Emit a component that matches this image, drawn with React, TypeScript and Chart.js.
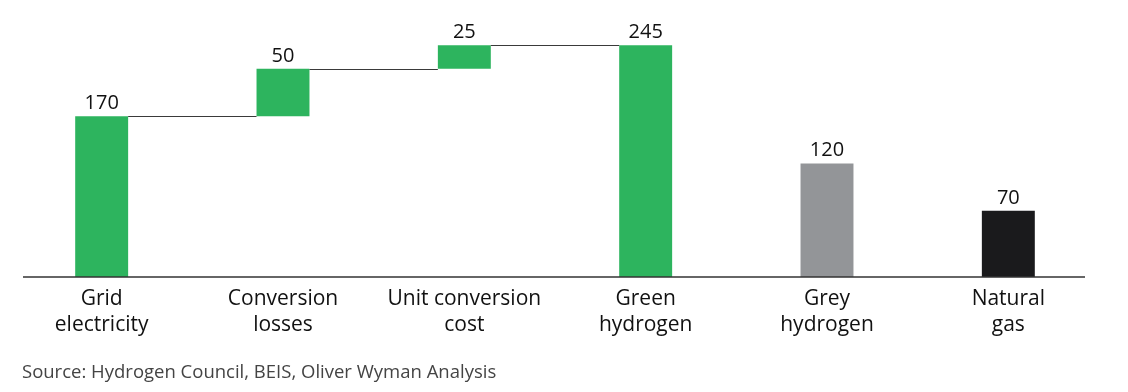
import React, { useEffect, useRef } from "react";
import { Chart, registerables } from "chart.js";

Chart.register(...registerables);

const categories: string[][] = [
  ["Grid", "electricity"],
  ["Conversion", "losses"],
  ["Unit conversion", "cost"],
  ["Green", "hydrogen"],
  ["Grey", "hydrogen"],
  ["Natural", "gas"],
];
const values: number[] = [170, 50, 25, 245, 120, 70];
// which bars float on top of the running total
const floating: boolean[] = [false, true, true, false, false, false];
const barColors: string[] = ["#2db45e", "#2db45e", "#2db45e", "#2db45e", "#939598", "#1a1a1c"];
const sourceText = "Source: Hydrogen Council, BEIS, Oliver Wyman Analysis";

const FONT = "'Open Sans', 'Noto Sans', sans-serif";

export default function App() {
  const ref = useRef<HTMLCanvasElement | null>(null);

  useEffect(() => {
    if (!ref.current) return;
    let running = 0;
    const ranges: [number, number][] = values.map((v, i) => {
      if (floating[i]) {
        const r: [number, number] = [running, running + v];
        running += v;
        return r;
      }
      running = v;
      return [0, v];
    });

    const connectors = {
      id: "connectors",
      afterDatasetsDraw(chart: any) {
        const ctx = chart.ctx;
        const meta = chart.getDatasetMeta(0);
        const y = chart.scales.y;
        ctx.save();
        ctx.strokeStyle = "#3a3a3a";
        ctx.lineWidth = 1;
        for (let i = 0; i < 3; i++) {
          const a = meta.data[i] as any;
          const b = meta.data[i + 1] as any;
          const py = Math.round(y.getPixelForValue(ranges[i][1])) + 0.5;
          ctx.beginPath();
          ctx.moveTo(a.x + a.width / 2, py);
          ctx.lineTo(b.x - b.width / 2, py);
          ctx.stroke();
        }
        // value labels
        ctx.fillStyle = "#111";
        ctx.font = `20px ${FONT}`;
        ctx.textAlign = "center";
        ctx.textBaseline = "alphabetic";
        meta.data.forEach((el: any, i: number) => {
          const top = y.getPixelForValue(ranges[i][1]);
          ctx.fillText(String(values[i]), el.x, top - 7);
        });
        // baseline axis
        const area = chart.chartArea;
        ctx.strokeStyle = "#333";
        ctx.lineWidth = 1.6;
        const by = y.getPixelForValue(0);
        ctx.beginPath();
        ctx.moveTo(area.left + 12, by);
        ctx.lineTo(area.right - 14, by);
        ctx.stroke();
        ctx.restore();
      },
    };

    const chart = new Chart(ref.current, {
      type: "bar",
      data: {
        labels: categories as any,
        datasets: [
          {
            data: ranges as any,
            backgroundColor: barColors,
            borderWidth: 0,
            barPercentage: 1,
            categoryPercentage: 0.292,
          },
        ],
      },
      options: {
        animation: false,
        responsive: false,
        maintainAspectRatio: false,
        layout: { padding: { left: 11, right: 29, top: 31, bottom: 0 } },
        plugins: { legend: { display: false }, tooltip: { enabled: false } },
        scales: {
          x: {
            grid: { display: false, drawTicks: false },
            border: { display: false },
            ticks: {
              color: "#111",
              font: { family: FONT, size: 21, lineHeight: 1.24 },
              padding: 9,
              maxRotation: 0,
              autoSkip: false,
            },
            afterFit: (scale: any) => {
              scale.height = 115;
            },
          },
          y: {
            display: false,
            min: 0,
            max: 260,
          },
        },
      },
      plugins: [connectors],
    });
    return () => chart.destroy();
  }, []);

  return (
    <div style={{ position: "fixed", left: 0, top: 0, width: 1128, height: 392, background: "#fff" }}>
      <canvas ref={ref} width={1128} height={392} style={{ display: "block" }} />
      <div
        style={{
          position: "absolute",
          left: 22,
          top: 360,
          fontFamily: FONT,
          fontSize: 18.5,
          lineHeight: "22px",
          color: "#444",
          whiteSpace: "nowrap",
        }}
      >
        {sourceText}
      </div>
    </div>
  );
}
